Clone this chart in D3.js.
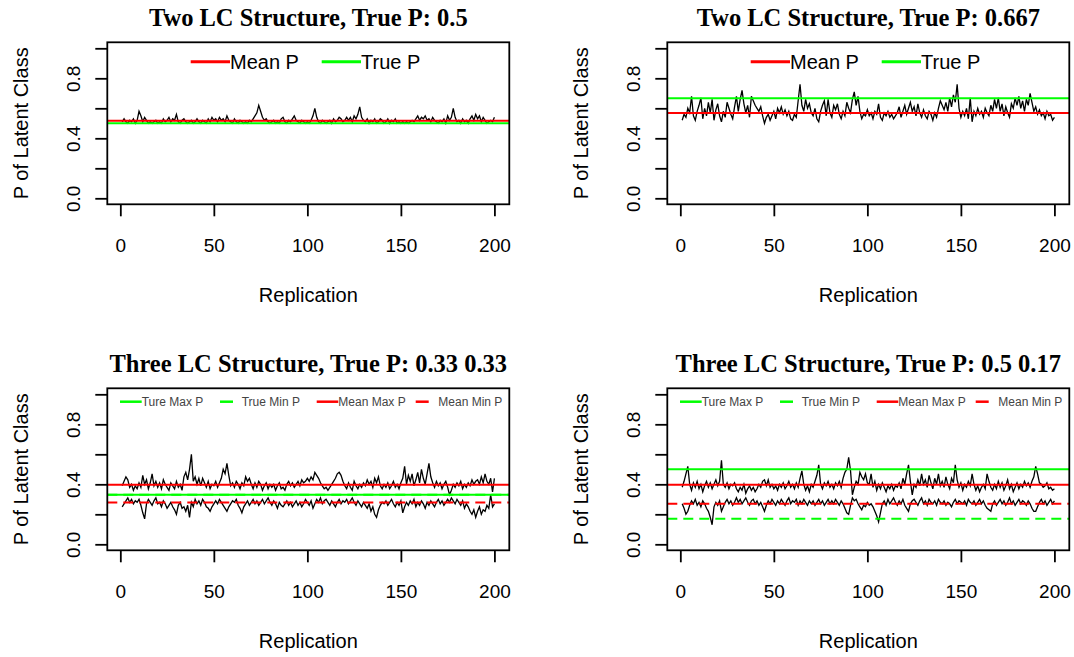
<!DOCTYPE html>
<html>
<head>
<meta charset="utf-8">
<script src="https://cdn.jsdelivr.net/npm/d3@7"></script>
<style>
  body { margin: 0; background: #fff; }
</style>
</head>
<body>
<div id="chart"></div>
<script>
// Two LC structure, true P 0.5 : estimated P of latent class per replication
var twoLc05 = [
  0.51,0.53,0.51,0.50,0.52,0.51,0.53,0.50,0.52,0.58,
  0.55,0.51,0.54,0.52,0.50,0.51,0.50,0.51,0.52,0.50,
  0.51,0.50,0.53,0.51,0.52,0.54,0.51,0.53,0.52,0.56,
  0.51,0.50,0.52,0.53,0.51,0.50,0.51,0.52,0.50,0.51,
  0.53,0.51,0.50,0.52,0.51,0.50,0.53,0.51,0.54,0.52,
  0.53,0.51,0.54,0.52,0.53,0.51,0.55,0.52,0.51,0.50,
  0.53,0.51,0.50,0.52,0.51,0.50,0.51,0.50,0.52,0.51,
  0.53,0.55,0.57,0.62,0.58,0.54,0.52,0.53,0.51,0.50,
  0.51,0.52,0.50,0.51,0.50,0.53,0.54,0.51,0.50,0.52,
  0.51,0.53,0.55,0.52,0.51,0.50,0.52,0.51,0.50,0.51,
  0.50,0.52,0.55,0.60,0.54,0.51,0.50,0.52,0.51,0.50,
  0.51,0.52,0.50,0.53,0.51,0.52,0.54,0.53,0.51,0.52,
  0.54,0.52,0.54,0.51,0.55,0.53,0.56,0.61,0.54,0.52,
  0.51,0.53,0.50,0.52,0.51,0.53,0.50,0.51,0.53,0.52,
  0.50,0.51,0.53,0.50,0.52,0.51,0.53,0.50,0.51,0.50,
  0.51,0.50,0.51,0.50,0.51,0.52,0.51,0.53,0.55,0.52,
  0.54,0.53,0.55,0.52,0.53,0.51,0.54,0.52,0.51,0.50,
  0.52,0.51,0.53,0.50,0.55,0.52,0.54,0.60,0.54,0.51,
  0.52,0.50,0.53,0.51,0.52,0.50,0.53,0.55,0.52,0.56,
  0.53,0.55,0.51,0.54,0.52,0.50,0.51,0.52,0.51,0.54
];

// Two LC structure, true P 0.667
var twoLc667 = [
  0.52,0.56,0.54,0.60,0.57,0.68,0.55,0.52,0.58,0.62,
  0.67,0.53,0.60,0.55,0.64,0.57,0.66,0.52,0.59,0.63,
  0.55,0.51,0.58,0.54,0.64,0.60,0.56,0.53,0.61,0.68,
  0.58,0.66,0.72,0.63,0.57,0.62,0.54,0.68,0.65,0.62,
  0.60,0.58,0.61,0.55,0.50,0.54,0.56,0.52,0.55,0.58,
  0.53,0.60,0.57,0.61,0.56,0.59,0.55,0.58,0.53,0.52,
  0.56,0.54,0.65,0.76,0.62,0.58,0.66,0.60,0.63,0.57,
  0.55,0.60,0.53,0.51,0.58,0.62,0.65,0.55,0.66,0.57,
  0.54,0.62,0.59,0.63,0.56,0.53,0.58,0.55,0.64,0.60,
  0.57,0.66,0.71,0.62,0.68,0.58,0.53,0.56,0.55,0.59,
  0.55,0.57,0.53,0.58,0.56,0.63,0.54,0.52,0.57,0.55,
  0.58,0.54,0.56,0.53,0.55,0.57,0.61,0.54,0.58,0.62,
  0.56,0.60,0.64,0.58,0.61,0.55,0.63,0.57,0.54,0.59,
  0.55,0.53,0.58,0.56,0.52,0.57,0.54,0.60,0.65,0.62,
  0.59,0.64,0.58,0.67,0.61,0.69,0.64,0.76,0.60,0.54,
  0.58,0.55,0.60,0.53,0.67,0.51,0.58,0.55,0.60,0.56,
  0.58,0.54,0.60,0.57,0.55,0.62,0.58,0.66,0.60,0.67,
  0.58,0.63,0.55,0.61,0.57,0.54,0.63,0.60,0.67,0.62,
  0.68,0.60,0.65,0.58,0.66,0.62,0.70,0.64,0.58,0.61,
  0.56,0.59,0.55,0.57,0.53,0.58,0.55,0.56,0.52,0.54
];

// Three LC structure, true P 0.33 0.33 : larger and smaller class
var threeLcA_max = [
  0.39,0.42,0.45,0.43,0.38,0.40,0.36,0.39,0.37,0.41,
  0.38,0.46,0.40,0.43,0.37,0.41,0.47,0.39,0.42,0.38,
  0.41,0.37,0.43,0.40,0.38,0.36,0.41,0.39,0.37,0.42,
  0.38,0.40,0.36,0.45,0.48,0.43,0.50,0.60,0.42,0.45,
  0.40,0.44,0.39,0.44,0.41,0.38,0.42,0.37,0.40,0.39,
  0.42,0.38,0.41,0.44,0.50,0.47,0.54,0.46,0.39,0.41,
  0.38,0.42,0.40,0.37,0.41,0.39,0.45,0.42,0.44,0.40,
  0.37,0.41,0.38,0.42,0.40,0.36,0.39,0.41,0.37,0.40,
  0.38,0.40,0.36,0.39,0.41,0.37,0.38,0.36,0.40,0.42,
  0.39,0.41,0.38,0.40,0.42,0.39,0.43,0.41,0.42,0.44,
  0.42,0.45,0.43,0.48,0.46,0.44,0.41,0.39,0.37,0.38,
  0.36,0.38,0.40,0.42,0.44,0.47,0.48,0.46,0.42,0.39,
  0.37,0.41,0.38,0.36,0.42,0.39,0.37,0.40,0.38,0.41,
  0.39,0.43,0.40,0.42,0.38,0.44,0.41,0.45,0.39,0.37,
  0.40,0.38,0.41,0.37,0.39,0.42,0.38,0.40,0.37,0.41,
  0.44,0.52,0.40,0.46,0.42,0.47,0.39,0.43,0.48,0.41,
  0.50,0.44,0.40,0.47,0.54,0.45,0.41,0.38,0.42,0.39,
  0.41,0.37,0.40,0.42,0.38,0.33,0.36,0.40,0.38,0.41,
  0.39,0.42,0.37,0.40,0.38,0.41,0.39,0.43,0.40,0.42,
  0.43,0.40,0.45,0.41,0.47,0.42,0.40,0.44,0.35,0.44
];
var threeLcA_min = [
  0.25,0.27,0.29,0.31,0.28,0.30,0.27,0.29,0.28,0.30,
  0.26,0.21,0.17,0.27,0.30,0.28,0.26,0.29,0.31,0.27,
  0.28,0.25,0.29,0.27,0.24,0.26,0.28,0.25,0.23,0.20,
  0.26,0.28,0.24,0.25,0.22,0.26,0.18,0.28,0.25,0.30,
  0.27,0.29,0.26,0.30,0.28,0.25,0.24,0.22,0.25,0.27,
  0.29,0.27,0.30,0.28,0.26,0.24,0.22,0.25,0.27,0.29,
  0.28,0.30,0.26,0.24,0.21,0.25,0.27,0.29,0.26,0.28,
  0.30,0.27,0.29,0.26,0.28,0.30,0.27,0.29,0.31,0.28,
  0.26,0.29,0.27,0.24,0.28,0.26,0.25,0.27,0.29,0.26,
  0.28,0.25,0.27,0.29,0.26,0.28,0.25,0.27,0.30,0.28,
  0.26,0.29,0.24,0.27,0.30,0.28,0.31,0.27,0.29,0.30,
  0.28,0.26,0.29,0.27,0.25,0.28,0.30,0.27,0.29,0.28,
  0.30,0.27,0.29,0.31,0.28,0.26,0.29,0.27,0.25,0.28,
  0.26,0.24,0.27,0.22,0.25,0.20,0.18,0.23,0.26,0.28,
  0.27,0.29,0.26,0.28,0.30,0.27,0.25,0.28,0.26,0.29,
  0.21,0.25,0.28,0.26,0.29,0.27,0.30,0.25,0.28,0.26,
  0.29,0.27,0.24,0.28,0.26,0.29,0.27,0.25,0.28,0.30,
  0.27,0.29,0.26,0.28,0.30,0.28,0.31,0.29,0.27,0.30,
  0.28,0.26,0.29,0.24,0.27,0.25,0.22,0.20,0.23,0.18,
  0.22,0.25,0.20,0.23,0.22,0.26,0.24,0.33,0.25,0.27
];

// Three LC structure, true P 0.5 0.17
var threeLcB_max = [
  0.38,0.42,0.47,0.52,0.40,0.36,0.41,0.38,0.42,0.37,
  0.40,0.35,0.39,0.42,0.38,0.41,0.37,0.40,0.43,0.39,
  0.42,0.56,0.40,0.38,0.41,0.37,0.40,0.39,0.41,0.37,
  0.35,0.38,0.36,0.40,0.34,0.37,0.39,0.36,0.38,0.35,
  0.37,0.40,0.38,0.42,0.43,0.39,0.43,0.38,0.40,0.37,
  0.39,0.36,0.40,0.38,0.41,0.37,0.39,0.42,0.38,0.40,
  0.37,0.41,0.38,0.44,0.49,0.40,0.36,0.39,0.35,0.40,
  0.38,0.42,0.46,0.53,0.40,0.37,0.41,0.39,0.42,0.38,
  0.40,0.37,0.41,0.39,0.42,0.38,0.44,0.48,0.50,0.58,
  0.49,0.33,0.38,0.42,0.40,0.48,0.45,0.43,0.47,0.41,
  0.40,0.47,0.38,0.42,0.36,0.40,0.37,0.41,0.38,0.35,
  0.39,0.37,0.40,0.36,0.39,0.38,0.41,0.37,0.44,0.40,
  0.47,0.53,0.42,0.33,0.40,0.38,0.43,0.39,0.47,0.40,
  0.43,0.38,0.46,0.41,0.37,0.44,0.40,0.47,0.39,0.42,
  0.38,0.45,0.40,0.37,0.44,0.41,0.53,0.43,0.38,0.41,
  0.36,0.40,0.38,0.42,0.39,0.47,0.40,0.36,0.39,0.35,
  0.38,0.40,0.37,0.47,0.42,0.38,0.36,0.40,0.37,0.42,
  0.38,0.41,0.36,0.39,0.43,0.37,0.40,0.35,0.38,0.41,
  0.37,0.40,0.38,0.42,0.39,0.41,0.38,0.42,0.45,0.52,
  0.47,0.41,0.40,0.38,0.39,0.41,0.37,0.38,0.36,0.37
];
var threeLcB_min = [
  0.27,0.24,0.20,0.22,0.26,0.29,0.27,0.30,0.26,0.28,
  0.25,0.29,0.27,0.24,0.22,0.18,0.13,0.25,0.28,0.26,
  0.29,0.22,0.25,0.28,0.30,0.27,0.29,0.26,0.28,0.31,
  0.28,0.30,0.27,0.29,0.31,0.28,0.26,0.29,0.30,0.27,
  0.29,0.26,0.28,0.25,0.22,0.26,0.29,0.27,0.30,0.28,
  0.26,0.29,0.27,0.30,0.28,0.26,0.29,0.31,0.27,0.29,
  0.28,0.30,0.26,0.29,0.27,0.30,0.28,0.26,0.29,0.27,
  0.29,0.26,0.28,0.30,0.27,0.29,0.26,0.28,0.30,0.27,
  0.29,0.27,0.30,0.28,0.26,0.29,0.27,0.24,0.21,0.20,
  0.26,0.31,0.29,0.30,0.27,0.25,0.23,0.26,0.25,0.28,
  0.26,0.27,0.25,0.22,0.19,0.15,0.21,0.27,0.29,0.26,
  0.30,0.27,0.29,0.31,0.28,0.26,0.29,0.27,0.30,0.26,
  0.24,0.22,0.27,0.29,0.30,0.28,0.26,0.29,0.31,0.27,
  0.29,0.26,0.30,0.28,0.27,0.29,0.26,0.30,0.28,0.27,
  0.29,0.26,0.28,0.27,0.25,0.28,0.30,0.27,0.29,0.28,
  0.27,0.29,0.26,0.30,0.28,0.27,0.29,0.26,0.28,0.30,
  0.27,0.29,0.26,0.24,0.23,0.22,0.27,0.29,0.26,0.28,
  0.30,0.27,0.29,0.26,0.28,0.31,0.27,0.29,0.26,0.28,
  0.30,0.27,0.29,0.28,0.26,0.29,0.27,0.24,0.22,0.22,
  0.25,0.28,0.30,0.27,0.29,0.26,0.28,0.30,0.27,0.29
];

// reference (abline) values
var trueP = [0.5, 0.667];
var meanP = [0.517, 0.568];
var trueMaxP = [0.33, 0.5];
var trueMinP = [0.33, 0.17];
var meanMaxP = [0.397, 0.397];
var meanMinP = [0.279, 0.27];

var titles = [
  "Two LC Structure, True P: 0.5",
  "Two LC Structure, True P: 0.667",
  "Three LC Structure, True P: 0.33 0.33",
  "Three LC Structure, True P: 0.5 0.17"
];
var yTicks = [0, 0.2, 0.4, 0.6, 0.8, 1.0];
var yLabelled = [0, 0.4, 0.8];
var xTicks = [0, 50, 100, 150, 200];
var twoLcLegend = ["Mean P", "True P"];
var threeLcLegend = ["Ture Max P", "True Min P", "Mean Max P", "Mean Min P"];

var RED = "#ff0000", GREEN = "#00ff00";
var sans = "'Liberation Sans', Arial, sans-serif";
var serif = "'Liberation Serif', 'Times New Roman', serif";

var width = 1074, height = 657;
var svg = d3.select("#chart").append("svg")
  .attr("width", width)
  .attr("height", height)
  .style("display", "block");

svg.append("rect").attr("width", width).attr("height", height).attr("fill", "#fff");

// plot box inside each panel
var box = {left: 107.3, right: 509.3, top: 42.3, bottom: 204.3};

var panels = [
  {dx: 0,   dy: 0,   title: titles[0], series: [twoLc05],
   refs: [{v: meanP[0], c: RED}, {v: trueP[0], c: GREEN}], legend: "two"},
  {dx: 560, dy: 0,   title: titles[1], series: [twoLc667],
   refs: [{v: meanP[1], c: RED}, {v: trueP[1], c: GREEN}], legend: "two"},
  {dx: 0,   dy: 346, title: titles[2], series: [threeLcA_max, threeLcA_min],
   refs: [{v: trueMaxP[0], c: GREEN}, {v: trueMinP[0], c: GREEN, dash: true},
          {v: meanMaxP[0], c: RED}, {v: meanMinP[0], c: RED, dash: true}], legend: "three"},
  {dx: 560, dy: 346, title: titles[3], series: [threeLcB_max, threeLcB_min],
   refs: [{v: trueMaxP[1], c: GREEN}, {v: trueMinP[1], c: GREEN, dash: true},
          {v: meanMaxP[1], c: RED}, {v: meanMinP[1], c: RED, dash: true}], legend: "three"}
];

panels.forEach(drawPanel);

function drawPanel(p, i) {
  var g = svg.append("g").attr("transform", "translate(" + p.dx + "," + p.dy + ")");

  // R style 4% axis extension
  var x = d3.scaleLinear().domain([1 - 0.04 * 199, 200 + 0.04 * 199]).range([box.left, box.right]);
  var y = d3.scaleLinear().domain([-0.04, 1.04]).range([box.bottom, box.top]);

  var clipId = "clip" + i;
  g.append("clipPath").attr("id", clipId)
    .append("rect")
    .attr("x", box.left).attr("y", box.top)
    .attr("width", box.right - box.left).attr("height", box.bottom - box.top);

  var plot = g.append("g").attr("clip-path", "url(#" + clipId + ")");

  var line = d3.line()
    .x(function(d, j) { return x(j + 1); })
    .y(function(d) { return y(d); });

  p.series.forEach(function(s) {
    plot.append("path")
      .datum(s)
      .attr("d", line)
      .attr("fill", "none")
      .attr("stroke", "#000")
      .attr("stroke-width", 1.3)
      .attr("stroke-linejoin", "miter");
  });

  //ablines
  p.refs.forEach(function(r) {
    plot.append("line")
      .attr("x1", box.left).attr("x2", box.right)
      .attr("y1", y(r.v)).attr("y2", y(r.v))
      .attr("stroke", r.c)
      .attr("stroke-width", 2)
      .attr("stroke-dasharray", r.dash ? "10,6" : null);
  });

  // box
  g.append("rect")
    .attr("x", box.left).attr("y", box.top)
    .attr("width", box.right - box.left).attr("height", box.bottom - box.top)
    .attr("fill", "none").attr("stroke", "#000").attr("stroke-width", 1.8);

  // y axis
  var gy = g.append("g")
    .attr("transform", "translate(" + box.left + ",0)")
    .call(d3.axisLeft(y).tickValues(yTicks).tickSize(12)
      .tickFormat(function(d) { return yLabelled.indexOf(d) >= 0 ? d3.format(".1f")(d) : ""; }));
  gy.select(".domain").remove();
  gy.selectAll(".tick line").attr("stroke", "#000").attr("stroke-width", 1.8);
  gy.selectAll(".tick text")
    .attr("transform", "rotate(-90)")
    .attr("x", 0).attr("y", -27).attr("dy", 0)
    .style("text-anchor", "middle")
    .style("font-family", sans).style("font-size", "19px").style("fill", "#000");

  // x axis
  var gx = g.append("g")
    .attr("transform", "translate(0," + box.bottom + ")")
    .call(d3.axisBottom(x).tickValues(xTicks).tickSize(12));
  gx.select(".domain").remove();
  gx.selectAll(".tick line").attr("stroke", "#000").attr("stroke-width", 1.8);
  gx.selectAll(".tick text")
    .attr("y", 47.5).attr("dy", 0)
    .style("font-family", sans).style("font-size", "19px").style("fill", "#000");

  // labels
  g.append("text")
    .attr("transform", "translate(28," + ((box.top + box.bottom) / 2) + ") rotate(-90)")
    .attr("text-anchor", "middle")
    .style("font-family", sans).style("font-size", "20px")
    .text("P of Latent Class");

  g.append("text")
    .attr("x", (box.left + box.right) / 2).attr("y", 302)
    .attr("text-anchor", "middle")
    .style("font-family", sans).style("font-size", "20px")
    .text("Replication");

  g.append("text")
    .attr("x", (box.left + box.right) / 2).attr("y", 26)
    .attr("text-anchor", "middle")
    .style("font-family", serif).style("font-size", "24.5px").style("font-weight", "bold")
    .text(p.title);

  // legend
  if (p.legend === "two") {
    var items2 = [
      {x1: 190.7, x2: 230, c: RED, label: twoLcLegend[0]},
      {x1: 321.7, x2: 361, c: GREEN, label: twoLcLegend[1]}
    ];
    var lg = g.append("g").attr("class", "legend");
    items2.forEach(function(it) {
      lg.append("line")
        .attr("x1", it.x1).attr("x2", it.x2).attr("y1", 61.7).attr("y2", 61.7)
        .attr("stroke", it.c).attr("stroke-width", 3);
      lg.append("text")
        .attr("x", it.x2).attr("y", 61.7 + 7.2)
        .style("font-family", sans).style("font-size", "20px").style("fill", "#000")
        .text(it.label);
    });
  } else {
    var items3 = [
      {x1: 120, x2: 141.7, c: GREEN, dash: false, tx: 141.7, label: threeLcLegend[0]},
      {x1: 220, x2: 241.7, c: GREEN, dash: true, tx: 241.7, label: threeLcLegend[1]},
      {x1: 316.7, x2: 338.3, c: RED, dash: false, tx: 338.3, label: threeLcLegend[2]},
      {x1: 415.7, x2: 438.3, c: RED, dash: true, tx: 438.3, label: threeLcLegend[3]}
    ];
    var lg3 = g.append("g").attr("class", "legend");
    items3.forEach(function(it) {
      lg3.append("line")
        .attr("x1", it.x1).attr("x2", it.x2).attr("y1", 55.7).attr("y2", 55.7)
        .attr("stroke", it.c).attr("stroke-width", 2.5)
        .attr("stroke-dasharray", it.dash ? "13,12" : null);
      lg3.append("text")
        .attr("x", it.tx).attr("y", 55.7 + 4)
        .style("font-family", sans).style("font-size", "12px").style("fill", "#444")
        .text(it.label);
    });
  }
}
</script>
</body>
</html>
